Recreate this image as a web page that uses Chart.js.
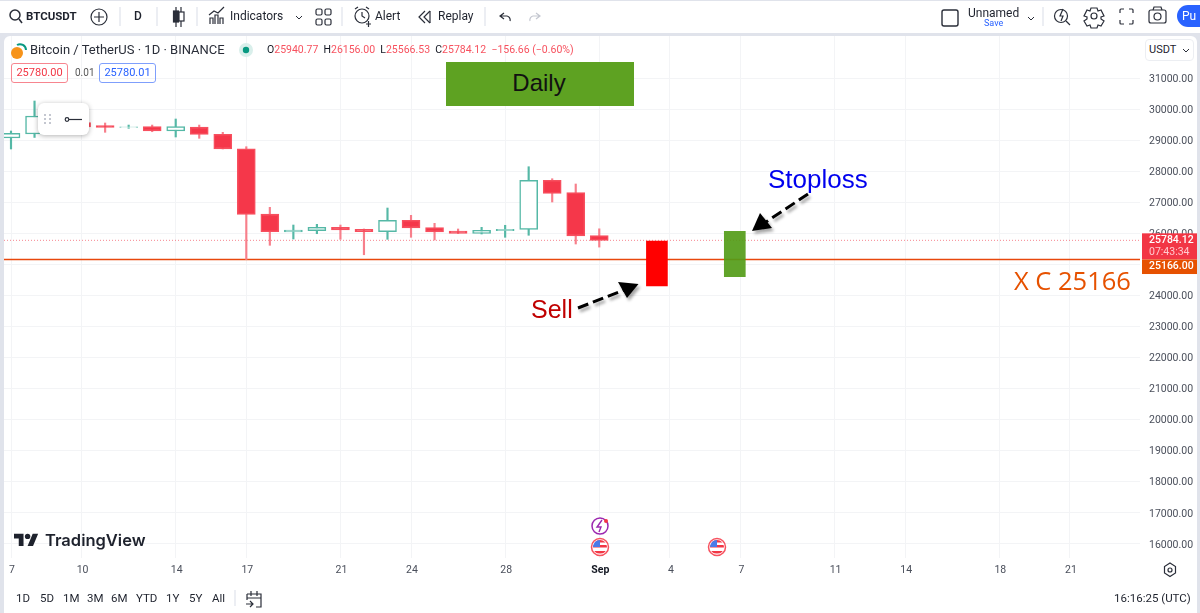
<!DOCTYPE html>
<html lang="en">

<head>
    <meta charset="UTF-8">
    <title>BTCUSDT Daily</title>
    <script src="https://cdn.jsdelivr.net/npm/chart.js"></script>
    <style>
        html, body { margin: 0; padding: 0; width: 1200px; height: 613px; overflow: hidden; background: #e0e3eb; }
        body { position: relative; font-family: Roboto, sans-serif; color: #1e222d; }
        #topbar { position: absolute; left: 0; top: 1px; width: 1200px; height: 32px; background: #fff; }
        #panel { position: absolute; left: 4px; top: 36px; width: 1193px; height: 577px; background: #fff; border-radius: 6px 6px 0 0; }
        #myChart { position: absolute; left: 0; top: 0; }
        #icons { position: absolute; left: 0; top: 0; }
        .t { position: absolute; white-space: nowrap; font-size: 12px; line-height: 14px; }
        .bot { top: 591px; font-size: 11.5px; }
        .red { color: #f7525f; }
        #daily { position: absolute; left: 446px; top: 62px; width: 188px; height: 44px; background: #5ea222; font: 24px/42px "Liberation Sans", sans-serif; text-align: center; text-indent: -2px; color: #111; }
        #popup { position: absolute; left: 38px; top: 103px; width: 51px; height: 32px; background: #fff; border-radius: 6px; box-shadow: 0 1px 5px rgba(0,0,0,.3); }
        .note { position: absolute; white-space: nowrap; font-family: "Liberation Sans", sans-serif; font-size: 26px; line-height: 30px; }
    </style>
</head>

<body>
    <div id="topbar"></div>
    <div id="panel"></div>
    <canvas id="myChart" width="1200" height="613"></canvas>

    <div class="t" style="left:26px;top:9px;font-weight:700;font-size:11.5px;">BTCUSDT</div>
    <div class="t" style="left:134px;top:9px;font-weight:500;">D</div>
    <div class="t" style="left:230px;top:9px;">Indicators</div>
    <div class="t" style="left:375px;top:9px;">Alert</div>
    <div class="t" style="left:438px;top:9px;">Replay</div>
    <div class="t" style="left:968px;top:6px;">Unnamed</div>
    <div class="t" style="left:984px;top:16px;font-size:9px;color:#2962ff;">Save</div>
    <div class="t" style="left:1177px;top:5px;width:23px;height:22px;background:#2962ff;border-radius:11px 0 0 11px;color:#fff;line-height:22px;text-indent:5px;">Pu</div>

    <div class="t" style="left:30px;top:43px;font-size:13px;color:#2a2e39;">Bitcoin / TetherUS · 1D · BINANCE</div>
    <div class="t" style="left:267px;top:43px;font-size:10.5px;color:#131722;">O<span class="red">25940.77</span> &nbsp;H<span class="red">26156.00</span> &nbsp;L<span class="red">25566.53</span> &nbsp;C<span class="red">25784.12</span> <span class="red">&nbsp;−156.66 (−0.60%)</span></div>
    <div class="t" style="left:11px;top:63px;width:55px;height:18px;border:1px solid #f7858f;border-radius:3px;text-align:center;line-height:18px;font-size:11px;color:#f23645;">25780.00</div>
    <div class="t" style="left:75px;top:66px;font-size:10px;color:#555;">0.01</div>
    <div class="t" style="left:99px;top:63px;width:55px;height:18px;border:1px solid #7f9ffc;border-radius:3px;text-align:center;line-height:18px;font-size:11px;color:#2962ff;">25780.01</div>
    <div class="t" style="left:1145px;top:39px;width:47px;height:20px;border:1px solid #eceef2;border-radius:4px;line-height:20px;text-indent:3px;font-size:11px;background:#fff;">USDT</div>

    <div id="daily">Daily</div>
    <div id="popup"></div>
    <div class="note" style="left:768px;top:164px;color:#0000ee;">Stoploss</div>
    <div class="note" style="left:531px;top:294px;color:#c00000;font-size:25px;">Sell</div>
    <div class="note" style="left:1014px;top:265px;color:#e65100;font-family:'Open Sans',sans-serif;font-size:25.5px;">X C 25166</div>

    <div class="t" style="left:45px;top:529px;font-family:Inter,sans-serif;font-weight:600;font-size:16.5px;line-height:22px;color:#1e222d;">TradingView</div>

    <div class="t bot" style="left:16px;">1D</div>
    <div class="t bot" style="left:40px;">5D</div>
    <div class="t bot" style="left:63px;">1M</div>
    <div class="t bot" style="left:87px;">3M</div>
    <div class="t bot" style="left:111px;">6M</div>
    <div class="t bot" style="left:136px;">YTD</div>
    <div class="t bot" style="left:166px;">1Y</div>
    <div class="t bot" style="left:189px;">5Y</div>
    <div class="t bot" style="left:212px;">All</div>
    <div class="t bot" style="left:1114px;">16:16:25 (UTC)</div>

    <svg id="icons" width="1200" height="613" fill="none" stroke="#2a2e39" stroke-width="1.2">
        <defs>
            <filter id="soft" x="-20%" y="-20%" width="150%" height="160%"><feDropShadow dx="2" dy="3" stdDeviation="1.5" flood-color="#000" flood-opacity=".35" /></filter>
            <clipPath id="flagA"><circle cx="600" cy="547" r="7" /></clipPath>
            <clipPath id="flagB"><circle cx="717" cy="547" r="7" /></clipPath>
        </defs>
        <!-- top bar separators -->
        <path d="M120 7v19M157 7v19M197 7v19M342 7v19M485 7v19M1043 7v19" stroke="#e0e3eb" />
        <circle cx="15" cy="15" r="5" stroke-width="1.5" /><path d="M19 19l3 4" stroke-width="1.5" />
        <circle cx="99" cy="17" r="8" /><path d="M99 12v10M94 17h10" />
        <path d="M176 7v20M181 7v20" /><rect x="173.5" y="11" width="5" height="11" fill="#2a2e39" /><rect x="179" y="12" width="5" height="9" fill="#fff" />
        <path d="M210 24V18h3v6M215 24V15h3v9M220 24V18h3v6M209 15l5-4 4 2 6-6" />
        <rect x="316" y="9" width="6" height="6" rx="1.5" /><rect x="325" y="9" width="6" height="6" rx="1.5" /><rect x="316" y="19" width="6" height="6" rx="1.5" /><rect x="325" y="19" width="6" height="6" rx="1.5" />
        <circle cx="362" cy="16" r="7" /><path d="M362 12v4l3 2M355 9l3-2M369 9l-3-2M366 24h5M368.5 21v6" />
        <path d="M430 11l-6 6 6 6M425 11l-6 6 6 6" /><path d="M430 11v12" />
        <path d="M504 13l-4 3 4 3M500 16h7a4 4 0 0 1 3 5" />
        <path d="M536 13l4 3-4 3M540 16h-7a4 4 0 0 0-3 5" stroke="#c4c7d0" />
        <path d="M296 16l3 3 3-3M1028 17l3 3 3-3" stroke-width="1" />
        <rect x="942" y="10" width="16" height="16" rx="2" stroke-width="1.4" />
        <circle cx="1061" cy="16" r="6.5" /><path d="M1066 21l4 4M1063 9l-3 7h3l-2 5" />
        <circle cx="1094" cy="16" r="3" /><path d="M1091 8h6l1 3 3-1 3 6-3 1 0 2 3 2-3 5-3-1-1 3h-6l-1-3-3 1-3-5 3-2 0-2-3-1 3-6 3 1z" />
        <path d="M1120 13v-3a1 1 0 0 1 1-1h3M1129 9h3a1 1 0 0 1 1 1v3M1133 20v3a1 1 0 0 1-1 1h-3M1124 24h-3a1 1 0 0 1-1-1v-3" />
        <rect x="1149" y="10" width="17" height="13" rx="2" /><circle cx="1157.5" cy="16.5" r="3.5" /><path d="M1153 10l1-3h7l1 3" />

        <!-- legend marks -->
        <circle cx="17" cy="53" r="6" fill="#f7931a" stroke="none" />
        <path d="M17 45a6 6 0 0 1 9 5" stroke="#089981" stroke-width="2" />
        <circle cx="246" cy="50" r="7" fill="#d9efeb" stroke="none" /><circle cx="246" cy="50" r="3.2" fill="#089981" stroke="none" />
        <path d="M1183 49l3 3 3-3" stroke-width="1" />

        <!-- floating tool popup -->
        <g fill="#c4c7d0" stroke="none">
            <rect x="44" y="114" width="2" height="2" /><rect x="49" y="114" width="2" height="2" />
            <rect x="44" y="118" width="2" height="2" /><rect x="49" y="118" width="2" height="2" />
            <rect x="44" y="122" width="2" height="2" /><rect x="49" y="122" width="2" height="2" />
        </g>
        <circle cx="67" cy="119.5" r="1.8" /><path d="M69 119.5h13" />

        <!-- arrows -->
        <g filter="url(#soft)">
            <path d="M578 308L624 290" stroke="#000" stroke-width="3" stroke-dasharray="11 5" />
            <path d="M638.5 284L618 282L627 298z" fill="#000" stroke="none" />
            <path d="M808 194L766 222" stroke="#000" stroke-width="3" stroke-dasharray="11 5" />
            <path d="M752 231L760 213L772 228z" fill="#000" stroke="none" />
        </g>

        <!-- TradingView logo -->
        <path transform="translate(14 531) scale(.68)" d="M14 22H7V11H0V4h14v18zM28 22h-8l7.5-18h8L28 22z" fill="#1e222d" stroke="none" />
        <circle cx="27.6" cy="536.4" r="2.7" fill="#1e222d" stroke="none" />

        <!-- event marks -->
        <circle cx="600" cy="526" r="8" fill="#fff" stroke="#9c27b0" stroke-width="1.5" />
        <path d="M602 520l-5 7h4l-2 5" stroke="#9c27b0" stroke-width="1.4" />
        <circle cx="606" cy="521" r="2" fill="#f23645" stroke="none" />
        <g>
            <circle cx="600" cy="547" r="8.5" fill="#fff" stroke="#f7525f" stroke-width="1.5" />
            <g clip-path="url(#flagA)" stroke="none">
                <rect x="593" y="540" width="14" height="14" fill="#fff" />
                <rect x="593" y="540" width="14" height="2.5" fill="#f23645" /><rect x="593" y="545" width="14" height="2.5" fill="#f23645" /><rect x="593" y="551" width="14" height="2.5" fill="#f23645" />
                <rect x="593" y="540" width="7" height="7" fill="#4a7be8" />
            </g>
        </g>
        <g>
            <circle cx="717" cy="547" r="8.5" fill="#fff" stroke="#f7525f" stroke-width="1.5" />
            <g clip-path="url(#flagB)" stroke="none">
                <rect x="710" y="540" width="14" height="14" fill="#fff" />
                <rect x="710" y="540" width="14" height="2.5" fill="#f23645" /><rect x="710" y="545" width="14" height="2.5" fill="#f23645" /><rect x="710" y="551" width="14" height="2.5" fill="#f23645" />
                <rect x="710" y="540" width="7" height="7" fill="#4a7be8" />
            </g>
        </g>

        <!-- bottom bar marks -->
        <path d="M235 590v16" stroke="#e0e3eb" />
        <path d="M247 594h14v13h-5M247 594v6M251 591v5M257 591v5M247 598h14M246 604h7M250 601l3 3-3 3" />
        <path d="M1170 563l5.5 3.5v6.5l-5.5 3.5-5.5-3.5v-6.5z" /><circle cx="1170" cy="570" r="2" />
    </svg>

    <script>
        // days counted from Aug 7
        const dias = [0, 1, 2, 3, 4, 5, 6, 7, 8, 9, 10, 11, 12, 13, 14, 15, 16, 17, 18, 19, 20, 21, 22, 23, 24, 25]
        const abertura = [29082, 29211, 29780, 29582, 29480, 29420, 29447, 29308, 29437, 29200, 28737, 26633, 26053, 26095, 26205, 26140, 26063, 26430, 26192, 26085, 26010, 26095, 26140, 27719, 27320, 25940.77]
        const maxima = [29308, 30275, 29850, 29680, 29566, 29500, 29500, 29695, 29500, 29266, 28802, 26849, 26278, 26300, 26278, 26150, 26826, 26591, 26333, 26150, 26204, 26269, 28157, 27770, 27600, 26156]
        const minima = [28728, 29100, 29450, 29380, 29266, 29395, 29285, 29115, 29073, 28728, 25166, 25624, 25827, 25998, 25817, 25320, 25817, 25882, 25795, 26000, 25988, 25882, 25947, 27020, 25666, 25566.53]
        const fechamento = [29234, 29791, 29560, 29437, 29420, 29445, 29308, 29447, 29200, 28728, 26623, 26062, 26117, 26205, 26117, 26063, 26430, 26181, 26053, 26010, 26107, 26140, 27719, 27300, 25924, 25784.12]

        const diasEixo = [0, 3, 7, 10, 14, 17, 21, 25, 28, 31, 35, 38, 42, 45]
        const rotulosEixo = ['7', '10', '14', '17', '21', '24', '28', 'Sep', '4', '7', '11', '14', '18', '21']
        const precosEixo = [16000, 17000, 18000, 19000, 20000, 21000, 22000, 23000, 24000, 25000, 26000, 27000, 28000, 29000, 30000, 31000]

        const ultimoPreco = 25784.12
        const nivelX = 25166
        const caixaVenda = { x: 27.45, y: [24312, 25763] }
        const caixaStop = { x: 30.76, y: [24612, 26075] }

        const vermelho = '#f5374a'
        const verde = '#55b8a6'

        const xMin = -0.2975
        const xMax = 47.98

        const corpos = dias.map((d, i) => ({ x: d, y: [abertura[i], fechamento[i]] }))
        const pavios = dias.map((d, i) => ({ x: d, y: [minima[i], maxima[i]] }))
        const sobe = dias.map((d, i) => fechamento[i] >= abertura[i])

        // tags on the price axis
        const etiquetas = {
            id: 'etiquetas',
            afterDraw(chart) {
                const ctx = chart.ctx
                const y = chart.scales.y
                const yUltimo = y.getPixelForValue(ultimoPreco)
                const yNivel = y.getPixelForValue(nivelX)
                ctx.save()
                ctx.fillStyle = '#f23645'
                ctx.fillRect(1142, yUltimo - 7, 55, yNivel - yUltimo + 7)
                ctx.fillStyle = '#e65100'
                ctx.fillRect(1142, yNivel, 55, 14.5)
                ctx.textBaseline = 'middle'
                ctx.font = '500 10.5px Roboto'
                ctx.fillStyle = '#fff'
                ctx.fillText(ultimoPreco.toFixed(2), 1149, yUltimo)
                ctx.fillText(nivelX.toFixed(2), 1149, yNivel + 7)
                ctx.fillStyle = '#ffc9ce'
                ctx.font = '10.5px Roboto'
                ctx.fillText('07:43:34', 1149, yUltimo + 12)
                ctx.restore()
            }
        }

        const ehSep = ctx => ctx.index === rotulosEixo.indexOf('Sep')

        const config = {
            type: 'bar',
            data: {
                datasets: [
                    {
                        type: 'line',
                        data: [{ x: xMin, y: nivelX }, { x: xMax, y: nivelX }],
                        borderColor: '#e8470c',
                        borderWidth: 1.5,
                        pointRadius: 0,
                        order: 5
                    },
                    {
                        type: 'line',
                        data: [{ x: xMin, y: ultimoPreco }, { x: xMax, y: ultimoPreco }],
                        borderColor: 'rgba(242, 54, 69, 0.6)',
                        borderWidth: 1,
                        borderDash: [1, 2],
                        pointRadius: 0,
                        order: 6
                    },
                    {
                        data: pavios,
                        backgroundColor: sobe.map(s => s ? verde : '#f77f8b'),
                        barThickness: 1.5,
                        order: 4
                    },
                    {
                        data: corpos,
                        backgroundColor: sobe.map(s => s ? '#ffffff' : vermelho),
                        borderColor: sobe.map(s => s ? verde : '#f7505f'),
                        borderWidth: 1.5,
                        borderSkipped: false,
                        barThickness: 18,
                        order: 3
                    },
                    {
                        data: [caixaVenda],
                        backgroundColor: '#ff0000',
                        barThickness: 21,
                        order: 2
                    },
                    {
                        data: [caixaStop],
                        backgroundColor: 'rgba(84, 156, 24, 0.92)',
                        barThickness: 21,
                        order: 1
                    }
                ]
            },
            options: {
                responsive: false,
                animation: false,
                layout: { padding: { left: 4, top: 36, right: 0, bottom: 0 } },
                plugins: { legend: { display: false }, tooltip: { enabled: false } },
                scales: {
                    x: {
                        type: 'linear',
                        offset: false,
                        min: xMin,
                        max: xMax,
                        afterBuildTicks: escala => { escala.ticks = diasEixo.map(value => ({ value })) },
                        afterFit: escala => { escala.height = 55 },
                        grid: { color: '#f3f4f6', drawTicks: false, offset: false },
                        border: { display: false },
                        ticks: {
                            autoSkip: false,
                            maxRotation: 0,
                            padding: 6,
                            labelOffset: 1,
                            color: ctx => ehSep(ctx) ? '#131722' : '#4a4f5b',
                            font: ctx => ({ family: 'Roboto', size: 10.5, weight: ehSep(ctx) ? '700' : '400' }),
                            callback: valor => rotulosEixo[diasEixo.indexOf(valor)]
                        }
                    },
                    y: {
                        position: 'right',
                        min: 15546,
                        max: 32370,
                        afterBuildTicks: escala => { escala.ticks = precosEixo.map(value => ({ value })) },
                        afterFit: escala => { escala.width = 60 },
                        grid: { color: '#f3f4f6', drawTicks: false },
                        border: { display: false },
                        ticks: {
                            padding: 9,
                            labelOffset: 1,
                            color: '#4a4f5b',
                            font: { family: 'Roboto', size: 10.5 },
                            callback: valor => valor.toFixed(2)
                        }
                    }
                },
                datasets: { bar: { grouped: false } }
            },
            plugins: [etiquetas]
        }

        const myChart = new Chart(document.getElementById('myChart'), config)
    </script>
</body>

</html>
